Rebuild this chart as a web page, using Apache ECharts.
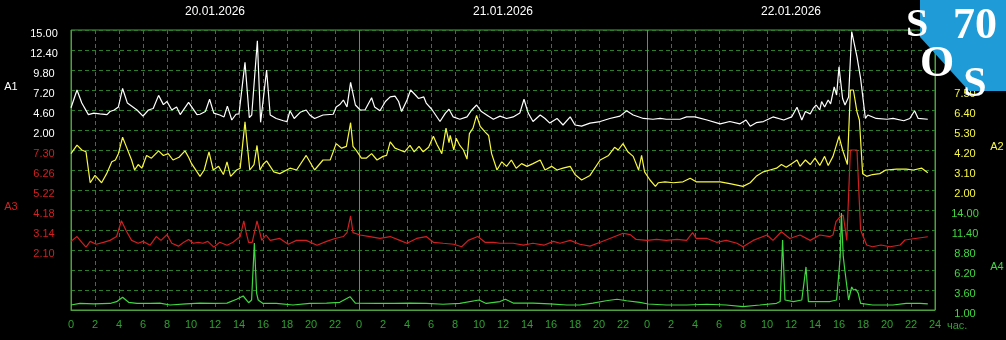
<!DOCTYPE html>
<html><head><meta charset="utf-8">
<script src="https://cdn.jsdelivr.net/npm/echarts@6/dist/echarts.min.js"></script>
<style>html,body{margin:0;padding:0;background:#000;}#c{width:1006px;height:340px;}</style>
</head><body><div id="c"></div>
<script>
// ---- data ----
const dayLabels = ['20.01.2026', '21.01.2026', '22.01.2026'];
const seriesNames = ['A1', 'A2', 'A3', 'A4'];
// axis label ranges [min label, max label, step]
const a1Ticks = [2.00, 15.00, 2.6];
const a2Ticks = [2.00, 7.50, 1.1];
const a3Ticks = [2.10, 7.30, 1.04];
const a4Ticks = [1.00, 14.00, 2.6];
// [hour since start, value]
const a1 = [[0,4.9],[0.5,7.2],[0.9,5.5],[1.45,4.0],[1.9,4.2],[2.4,4.1],[3.0,4.0],[3.25,4.4],[3.6,4.6],[3.95,5.0],[4.3,7.4],[4.7,5.5],[5.5,4.6],[6.0,3.8],[6.45,4.6],[6.85,4.8],[7.3,6.5],[7.7,5.3],[8.0,5.7],[8.4,4.6],[8.8,5.0],[9.1,4.0],[9.8,5.6],[10.5,4.0],[10.75,4.05],[11.2,4.4],[11.55,6.0],[11.9,4.2],[12.4,3.95],[12.75,3.7],[13.03,5.1],[13.4,3.3],[13.75,4.05],[14.0,4.1],[14.5,10.8],[14.86,3.6],[15.06,3.95],[15.53,13.6],[15.8,3.0],[16.3,9.8],[16.6,3.95],[17.1,3.5],[17.7,3.2],[18.0,3.1],[18.25,4.5],[18.6,3.5],[19.1,4.3],[19.6,4.6],[19.9,3.95],[20.3,3.5],[21.0,3.95],[21.85,4.05],[22.1,5.0],[22.4,5.3],[22.7,5.9],[23.0,5.0],[23.3,8.2],[23.7,5.25],[24.1,4.6],[24.5,4.6],[25.05,6.2],[25.3,5.0],[25.75,4.5],[26.2,5.7],[26.6,6.3],[27.0,6.4],[27.3,5.7],[27.55,4.4],[28.0,5.9],[28.3,7.2],[28.7,6.55],[28.95,6.1],[29.4,6.3],[29.6,5.5],[30.06,4.7],[30.75,3.1],[31.2,4.2],[31.5,4.7],[31.85,3.7],[32.4,3.4],[33.0,3.7],[33.4,4.6],[33.8,5.25],[34.2,4.4],[34.8,3.8],[35.2,3.4],[35.75,3.8],[36.3,3.5],[36.85,3.7],[37.4,4.2],[37.75,6.0],[38.1,4.2],[38.5,3.1],[39.1,3.95],[39.5,3.5],[39.9,2.9],[40.5,3.5],[41.0,2.65],[41.6,3.7],[42.0,2.65],[42.55,2.5],[43.25,2.9],[44.1,3.1],[44.9,3.5],[45.75,3.8],[46.3,4.5],[46.85,3.95],[47.7,3.5],[48.5,3.4],[49.1,3.5],[49.6,3.4],[50.2,3.4],[50.75,3.4],[51.3,3.7],[52.0,3.7],[53.0,3.3],[54.1,2.8],[54.9,3.1],[55.75,2.8],[56.25,3.3],[56.6,2.5],[57.1,2.95],[57.7,3.1],[58.5,3.7],[59.4,3.3],[60.05,3.7],[60.5,4.95],[60.9,3.3],[61.2,4.4],[61.6,4.1],[61.85,4.8],[62.1,5.25],[62.4,4.6],[62.55,5.7],[62.8,5.0],[63.1,5.9],[63.3,5.4],[63.6,7.6],[63.8,6.55],[64.0,10.2],[64.3,6.1],[64.5,5.25],[64.8,6.3],[65.06,14.8],[65.5,11.5],[65.8,8.7],[66.2,3.5],[66.4,3.95],[67.1,3.5],[68.0,3.4],[68.5,3.5],[69.4,3.2],[69.9,3.5],[70.3,4.5],[70.6,3.5],[71.4,3.4]];
const a2 = [[0,4.0],[0.5,4.47],[0.9,4.2],[1.25,4.1],[1.6,2.4],[2.0,2.8],[2.55,2.4],[2.97,2.9],[3.4,3.55],[3.7,3.65],[3.95,4.0],[4.3,4.9],[4.6,4.4],[5.05,3.65],[5.3,3.1],[5.6,3.4],[5.9,3.2],[6.3,3.9],[6.7,3.75],[7.3,4.15],[7.7,3.9],[8.1,4.0],[8.5,3.65],[9.0,3.8],[9.5,4.15],[9.8,3.8],[10.05,3.45],[10.75,2.75],[11.1,3.1],[11.5,4.1],[11.85,3.1],[12.3,3.3],[12.7,2.85],[13.0,3.55],[13.3,2.75],[13.8,3.1],[14.1,3.2],[14.5,5.75],[14.7,4.4],[14.9,3.1],[15.25,3.4],[15.5,4.45],[15.75,3.1],[16.0,3.4],[16.3,3.6],[16.9,3.0],[17.4,2.9],[18.25,3.2],[18.8,3.1],[19.6,3.9],[20.3,3.1],[21.0,3.65],[21.6,3.65],[22.1,4.55],[22.55,4.3],[22.95,4.4],[23.3,5.7],[23.5,4.4],[23.8,4.15],[24.2,3.75],[24.6,3.75],[25.05,4.0],[25.5,3.65],[26.0,3.85],[26.3,3.9],[26.6,4.65],[27.0,4.3],[27.4,4.2],[27.8,4.1],[28.25,4.45],[28.6,4.1],[29.0,4.4],[29.35,4.1],[29.8,4.35],[30.2,4.95],[30.5,4.5],[30.9,4.0],[31.25,5.4],[31.5,4.6],[31.6,5.0],[31.9,4.2],[32.1,4.85],[32.4,4.45],[32.7,4.2],[33.0,3.7],[33.2,5.1],[33.5,5.4],[33.8,6.1],[34.1,5.5],[34.5,5.2],[34.8,5.0],[35.05,4.0],[35.5,3.1],[35.9,3.55],[36.3,3.3],[36.7,3.65],[37.1,3.2],[37.55,3.45],[38.0,3.3],[38.5,3.45],[39.1,3.65],[39.5,3.1],[40.05,3.3],[40.5,3.1],[41.0,3.2],[41.6,3.3],[42.0,2.85],[42.55,2.55],[43.25,2.8],[44.1,3.65],[44.8,3.9],[45.3,4.35],[45.6,4.2],[46.0,4.55],[46.4,4.1],[46.85,3.85],[47.3,3.1],[47.55,3.9],[47.8,3.0],[48.25,2.55],[48.7,2.2],[48.95,2.4],[49.5,2.45],[50.2,2.4],[51.0,2.45],[51.6,2.65],[52.1,2.45],[53.0,2.45],[54.1,2.45],[54.9,2.35],[56.0,2.2],[56.6,2.4],[57.1,2.75],[57.7,3.0],[58.25,3.1],[58.8,3.2],[59.2,3.4],[59.6,3.25],[60.05,3.45],[60.5,3.65],[60.75,3.3],[61.2,3.65],[61.6,3.4],[62.0,3.75],[62.4,3.35],[62.8,3.85],[63.1,3.35],[63.5,3.85],[64.0,4.95],[64.3,4.2],[64.7,3.4],[64.95,7.5],[65.2,7.5],[65.5,6.3],[65.7,5.85],[65.97,2.9],[66.3,2.75],[66.8,2.85],[67.4,2.9],[67.9,3.1],[68.8,3.15],[69.6,3.15],[70.2,3.1],[70.9,3.2],[71.4,2.95]];
const a3 = [[0,2.55],[0.5,2.8],[0.9,2.5],[1.25,2.25],[1.6,2.55],[2.1,2.4],[2.7,2.5],[3.25,2.6],[3.8,2.8],[4.2,3.62],[4.6,3.1],[5.05,2.6],[5.6,2.45],[6.0,2.55],[6.6,2.35],[7.1,2.8],[7.5,2.6],[8.0,2.9],[8.4,2.45],[8.95,2.3],[9.4,2.5],[9.8,2.65],[10.2,2.45],[10.6,2.5],[11.0,2.45],[11.4,2.55],[11.9,2.25],[12.4,2.5],[13.0,2.35],[13.5,2.5],[14.1,2.8],[14.4,3.62],[14.6,3.0],[14.8,2.5],[15.1,2.5],[15.5,3.62],[15.9,2.6],[16.25,2.88],[16.6,2.6],[17.4,2.7],[18.1,2.4],[18.8,2.6],[19.6,2.6],[20.5,2.35],[21.3,2.55],[22.0,2.7],[22.7,2.8],[23.0,3.0],[23.3,3.87],[23.5,3.0],[24.1,2.88],[24.9,2.8],[25.75,2.7],[26.6,2.8],[27.4,2.6],[28.0,2.45],[28.8,2.7],[29.6,2.8],[30.2,2.5],[31.0,2.45],[31.9,2.4],[32.55,2.27],[33.1,2.6],[33.9,2.8],[34.5,2.5],[35.2,2.5],[35.75,2.45],[36.85,2.45],[37.7,2.35],[38.5,2.45],[39.4,2.35],[40.2,2.55],[40.75,2.45],[41.6,2.6],[42.4,2.4],[43.25,2.3],[44.1,2.5],[44.9,2.7],[46.0,2.97],[46.6,2.9],[47.1,2.65],[48.0,2.6],[48.8,2.65],[49.6,2.6],[50.5,2.65],[51.3,2.6],[51.8,3.0],[52.1,2.7],[53.0,2.7],[53.8,2.5],[54.6,2.6],[55.5,2.45],[56.0,2.27],[56.85,2.6],[58.0,2.88],[58.5,2.6],[59.2,3.05],[59.9,2.7],[60.75,2.88],[61.6,2.6],[62.4,2.88],[63.25,2.8],[63.5,2.88],[63.75,3.57],[64.1,3.83],[64.35,3.92],[64.65,2.6],[64.95,7.3],[65.5,7.3],[65.8,3.14],[66.3,2.36],[66.8,2.27],[67.5,2.36],[68.25,2.27],[69.1,2.36],[69.5,2.62],[70.5,2.71],[71.4,2.79]];
const a4 = [[0,1.65],[0.75,1.87],[1.9,1.8],[3.25,1.85],[3.8,2.08],[4.3,2.65],[4.8,2.0],[5.5,1.87],[6.6,1.87],[7.4,1.9],[8.25,1.65],[9.6,1.8],[10.75,1.9],[11.85,1.85],[13.0,1.9],[13.8,2.39],[14.35,2.82],[14.8,1.95],[15.05,2.3],[15.28,9.7],[15.47,3.17],[15.6,2.3],[16.0,1.85],[17.1,1.85],[18.5,1.65],[19.9,1.85],[21.3,1.9],[22.4,2.0],[23.25,2.73],[23.7,1.9],[25.5,1.85],[26.9,1.85],[28.25,1.9],[29.6,1.85],[31.0,1.75],[32.4,1.85],[34.0,2.3],[34.6,1.85],[35.75,2.1],[36.2,2.4],[36.85,1.9],[38.5,1.9],[39.9,1.8],[41.3,1.65],[42.4,1.65],[43.5,1.9],[44.6,2.2],[45.5,2.4],[46.3,2.2],[47.4,2.0],[48.1,1.78],[49.6,1.65],[51.3,1.65],[53.0,1.75],[54.6,1.65],[56.0,1.45],[57.4,1.65],[58.8,1.87],[59.1,2.1],[59.3,10.1],[59.5,2.3],[60.2,2.1],[60.9,2.3],[61.25,6.6],[61.45,2.1],[62.1,2.1],[63.25,2.1],[63.8,2.3],[64.1,7.9],[64.2,13.6],[64.35,8.0],[64.5,6.0],[64.8,2.3],[65.06,4.0],[65.2,3.6],[65.4,3.7],[65.6,3.2],[65.8,1.87],[66.8,1.65],[68.5,1.65],[69.6,1.85],[70.75,1.85],[71.4,1.8]];

// ---- styling ----
const FONT = 'Arial, "Liberation Sans", sans-serif';
const C_WHITE = '#ffffff', C_YEL = '#f8f840', C_RED = '#d02020', C_GRN = '#40d840';
const C_DASH = '#2b7f2b', C_FRAME = '#4ea03e', C_XLAB = '#2fa02f';
const LW = 1.2;

function rangeFmt(t) {
  return v => (v >= t[0] - 1e-6 && v <= t[1] + 1e-6) ? v.toFixed(2) : '';
}
// axis spans whole plot; ticks shown only on the labelled band
function yAx(t, rowsAboveTop, rowsBelowBottom, pos, color, margin, split) {
  return {
    type: 'value', position: pos,
    min: +(t[0] - rowsBelowBottom * t[2]).toFixed(4),
    max: +(t[1] + rowsAboveTop * t[2]).toFixed(4),
    interval: t[2],
    axisLine: { show: false, onZero: false }, axisTick: { show: false },
    splitLine: { show: split, lineStyle: { color: C_DASH, type: [4, 3], width: 1 } },
    axisLabel: { color: color, fontFamily: FONT, fontSize: 11, align: 'center', margin: margin,
                 verticalAlign: 'top', lineHeight: 7, formatter: rangeFmt(t) }
  };
}

const chart = echarts.init(document.getElementById('c'));
chart.setOption({
  animation: false,
  backgroundColor: '#000000',
  grid: { left: 71, right: 71, top: 30, bottom: 30, show: true, borderColor: C_FRAME, borderWidth: 1 },
  xAxis: [
    { type: 'value', min: 0, max: 72, interval: 2, position: 'bottom',
      axisLine: { show: true, onZero: false, lineStyle: { color: C_FRAME } }, axisTick: { show: false },
      splitLine: { show: true, lineStyle: { color: C_DASH, type: [4, 3], width: 1 } },
      axisLabel: { color: C_XLAB, fontFamily: FONT, fontSize: 11, margin: 9,
                   formatter: v => v === 72 ? '24' : String(v % 24) },
      name: 'час.', nameLocation: 'end', nameGap: 10,
      nameTextStyle: { color: C_XLAB, fontFamily: FONT, fontSize: 11, align: 'left', verticalAlign: 'top', padding: [10, 0, 0, 0] } },
    { type: 'value', min: 0, max: 72, interval: 24, position: 'bottom', z: 1,
      axisLine: { show: false, onZero: false }, axisTick: { show: false }, axisLabel: { show: false },
      splitLine: { show: true, lineStyle: { color: C_FRAME, type: 'solid', width: 1 } } },
    { type: 'value', min: 0, max: 72, interval: 12, position: 'top',
      axisLine: { show: false, onZero: false }, axisTick: { show: false }, splitLine: { show: false },
      axisLabel: { color: '#ffffff', fontFamily: FONT, fontSize: 12, margin: 12,
                   formatter: v => (v % 24 === 12) ? dayLabels[(v - 12) / 24] : '' } }
  ],
  yAxis: [
    yAx(a1Ticks, 0, 9, 'left', C_WHITE, 27, true),
    yAx(a2Ticks, 3, 6, 'right', C_YEL, 30, false),
    yAx(a3Ticks, 6, 3, 'left', C_RED, 27, false),
    yAx(a4Ticks, 9, 0, 'right', C_GRN, 30, false)
  ],
  series: [
    { name: seriesNames[0], type: 'line', xAxisIndex: 0, yAxisIndex: 0, data: a1, symbol: 'none', silent: true, lineStyle: { color: C_WHITE, width: LW } },
    { name: seriesNames[1], type: 'line', xAxisIndex: 0, yAxisIndex: 1, data: a2, symbol: 'none', silent: true, lineStyle: { color: C_YEL, width: LW } },
    { name: seriesNames[2], type: 'line', xAxisIndex: 0, yAxisIndex: 2, data: a3, symbol: 'none', silent: true, lineStyle: { color: C_RED, width: LW } },
    { name: seriesNames[3], type: 'line', xAxisIndex: 0, yAxisIndex: 3, data: a4, symbol: 'none', silent: true, lineStyle: { color: C_GRN, width: LW } }
  ],
  graphic: [
    { type: 'text', x: 11, y: 87, style: { text: seriesNames[0], fill: C_WHITE, font: '11px ' + FONT, align: 'center', verticalAlign: 'middle' } },
    { type: 'text', x: 11, y: 207, style: { text: seriesNames[2], fill: C_RED, font: '11px ' + FONT, align: 'center', verticalAlign: 'middle' } },
    { type: 'text', x: 997, y: 147, style: { text: seriesNames[1], fill: C_YEL, font: '11px ' + FONT, align: 'center', verticalAlign: 'middle' } },
    { type: 'text', x: 997, y: 267, style: { text: seriesNames[3], fill: C_GRN, font: '11px ' + FONT, align: 'center', verticalAlign: 'middle' } },
    { type: 'polygon', z: 100, shape: { points: [[920, 0], [1006, 0], [1006, 91], [969, 91], [920, 37]] }, style: { fill: '#1f9cd8' } },
    { type: 'text', z: 101, x: 917, y: 26, style: { text: 'S', fill: '#fff', font: 'bold 40px "Liberation Serif", serif', align: 'center', verticalAlign: 'middle' } },
    { type: 'text', z: 101, x: 975, y: 27, style: { text: '70', fill: '#fff', font: 'bold 44px "Liberation Serif", serif', align: 'center', verticalAlign: 'middle' } },
    { type: 'text', z: 101, x: 937, y: 65, style: { text: 'O', fill: '#fff', font: 'bold 44px "Liberation Serif", serif', align: 'center', verticalAlign: 'middle' } },
    { type: 'text', z: 101, x: 975, y: 85, style: { text: 'S', fill: '#fff', font: 'bold 42px "Liberation Serif", serif', align: 'center', verticalAlign: 'middle' } }
  ]
});
</script>
</body></html>
